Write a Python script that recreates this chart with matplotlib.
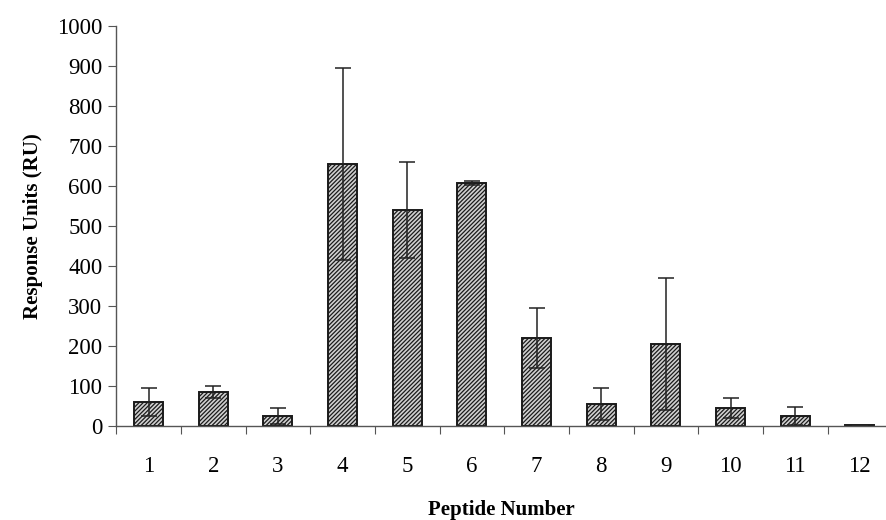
import numpy as np
import matplotlib
matplotlib.use("Agg")
import matplotlib.pyplot as plt
from matplotlib.ticker import FixedLocator, NullFormatter

# peptide responses
peptides = ["1", "2", "3", "4", "5", "6", "7", "8", "9", "10", "11", "12"]
response = [60, 85, 25, 655, 540, 608, 220, 55, 205, 45, 25, 2]
error = [35, 15, 20, 240, 120, 5, 75, 40, 165, 25, 22, 0]

plt.rcParams['font.family'] = ['Liberation Serif', 'DejaVu Serif']
plt.rcParams['hatch.linewidth'] = 0.9

fig = plt.figure(figsize=(8.87, 5.2), dpi=100)
ax = fig.add_axes([0.131, 0.181, 0.869, 0.769])

x = np.arange(1, len(peptides) + 1)
ax.bar(x, response, width=0.45, color='#d0d0d0', edgecolor='#1a1a1a',
       linewidth=1.4, hatch='////////')
ax.errorbar(x, response, yerr=error, fmt='none', ecolor='#222222',
            elinewidth=1.1, capsize=6, capthick=1.1)

ax.set_xlim(0.5, 12.42)
ax.set_ylim(0, 1000)
ax.set_yticks(np.arange(0, 1001, 100))

# ticks between categories, labels at the centres
ax.xaxis.set_major_locator(FixedLocator(np.arange(0.5, 12.6, 1)))
ax.xaxis.set_major_formatter(NullFormatter())
ax.xaxis.set_minor_locator(FixedLocator(x))
ax.set_xticklabels(peptides, minor=True)
ax.tick_params(axis='x', which='major', direction='out', length=6,
               color='#555555')
ax.tick_params(axis='x', which='minor', length=0, pad=22, labelsize=16.5)
ax.tick_params(axis='y', direction='out', length=6, color='#555555',
               labelsize=16.5, pad=4)

for side in ['top', 'right']:
    ax.spines[side].set_visible(False)
for side in ['left', 'bottom']:
    ax.spines[side].set_color('#555555')
    ax.spines[side].set_linewidth(1.0)

ax.set_ylabel('Response Units (RU)', fontsize=15, fontweight='bold', labelpad=10)
ax.set_xlabel('Peptide Number', fontsize=15, fontweight='bold', labelpad=16)

fig.savefig('out.png', dpi=100, facecolor='white')
